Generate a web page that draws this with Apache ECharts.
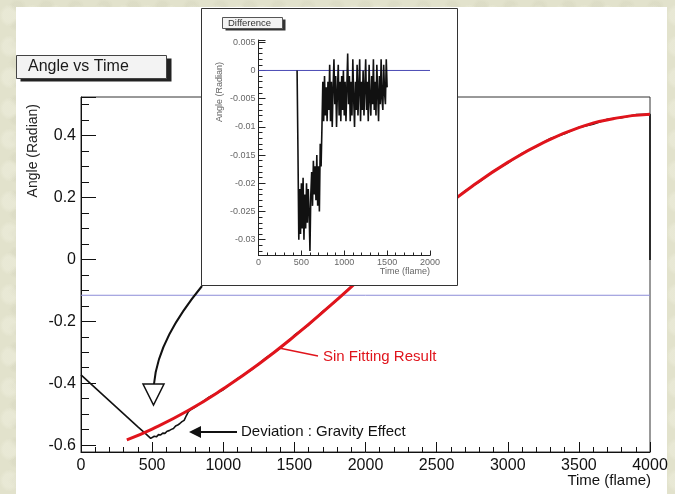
<!DOCTYPE html>
<html>
<head>
<meta charset="utf-8">
<script src="https://cdn.jsdelivr.net/npm/echarts@6/dist/echarts.min.js"></script>
<style>
html,body{margin:0;padding:0;}
body{background-color:#e2e2cc;background-image:radial-gradient(ellipse at 40% 50%, rgba(245,245,230,0.35) 0 6px, transparent 10px),radial-gradient(ellipse at 60% 30%, rgba(205,205,180,0.25) 0 5px, transparent 9px);background-size:23px 31px, 29px 19px;}
#paper{position:absolute;left:16px;top:7px;width:651px;height:487px;background:#ffffff;}
#chart{position:absolute;left:0;top:0;width:675px;height:494px;}
</style>
</head>
<body>
<div id="paper"></div>
<div id="chart"></div>
<script>
// ---- main plot data: measured angle vs time ----
const mainTime = [0, 50, 100, 150, 200, 250, 300, 350, 400, 450, 490, 500, 515, 530, 545, 560, 575, 590, 605, 620, 635, 650, 665, 680, 695, 710, 725, 740, 755, 770,
  800, 900, 1000, 1100, 1200, 1300, 1400, 1500, 1600, 1700, 1800, 1900, 2000, 2100, 2200, 2300, 2400, 2500, 2600, 2700, 2800, 2900, 3000, 3100, 3200, 3300, 3400, 3500, 3600, 3700, 3800, 3900, 4000, 4000];
const mainAngle = [-0.373, -0.394, -0.415, -0.436, -0.457, -0.478, -0.499, -0.520, -0.541, -0.561, -0.578, -0.575, -0.571, -0.573, -0.566, -0.567, -0.561, -0.562, -0.555, -0.553, -0.549, -0.546, -0.538, -0.535, -0.530, -0.524, -0.520, -0.505, -0.492, -0.486,
  -0.478, -0.445, -0.421, -0.385, -0.356, -0.318, -0.287, -0.245, -0.212, -0.168, -0.132, -0.087, -0.050, -0.006, 0.031, 0.074, 0.109, 0.151, 0.182, 0.221, 0.250, 0.285, 0.311, 0.342, 0.364, 0.390, 0.405, 0.426, 0.436, 0.452, 0.457, 0.467, 0.468, -0.002];

// ---- sine fit result ----
const fitTime  = [322, 500, 750, 1000, 1250, 1500, 1750, 2000, 2250, 2500, 2750, 3000, 3250, 3500, 3750, 4000];
const fitAngle = [-0.583, -0.548, -0.489, -0.418, -0.338, -0.248, -0.150, -0.048, 0.052, 0.148, 0.236, 0.313, 0.377, 0.425, 0.455, 0.468];

// ---- horizontal reference line (main) ----
const refTime = [0, 4000];
const refAngle = [-0.116, -0.116];

// ---- inset: difference (data - fit) ----
const diffTime = [450, 460, 470, 480, 490, 500, 510, 520, 530, 540, 550, 560, 570, 580, 590, 600, 610, 620, 630, 640, 650, 660, 670, 680, 690, 700, 710, 720, 730, 740,
  750, 760, 770, 780, 790, 800, 810, 820, 830, 840, 850, 860, 870, 880, 890, 900, 910, 920, 930, 940, 950, 960, 970, 980, 990,
  1000, 1010, 1020, 1030, 1040, 1050, 1060, 1070, 1080, 1090, 1100, 1110, 1120, 1130, 1140, 1150, 1160, 1170, 1180, 1190,
  1200, 1210, 1220, 1230, 1240, 1250, 1260, 1270, 1280, 1290, 1300, 1310, 1320, 1330, 1340, 1350, 1360, 1370, 1380, 1390,
  1400, 1410, 1420, 1430, 1440, 1450, 1460, 1470, 1480, 1490, 1500];
const diffValue = [0, -0.014, -0.030, -0.021, -0.029, -0.020, -0.028, -0.019, -0.030, -0.022, -0.028, -0.020, -0.027, -0.021, -0.025, -0.032, -0.022, -0.018, -0.024, -0.016, -0.022, -0.017, -0.023, -0.015, -0.024, -0.017, -0.025, -0.013, -0.017, -0.010,
  -0.002, -0.009, -0.001, -0.008, -0.003, -0.009, -0.002, -0.007, 0.001, -0.009, -0.002, -0.010, -0.003, 0.002, -0.006, -0.001, -0.010, -0.004, 0.001, -0.008, -0.002, -0.009, -0.001, -0.007, 0.000,
  -0.008, -0.002, -0.009, -0.003, 0.003, -0.006, -0.001, -0.009, -0.002, -0.008, 0.002, -0.005, -0.010, -0.002, -0.007, 0.001, -0.008, -0.003, 0.002, -0.009,
  -0.002, -0.007, 0.000, -0.008, -0.003, 0.002, -0.007, -0.002, -0.009, 0.001, -0.005, -0.008, -0.001, -0.006, 0.002, -0.007, -0.002, -0.008, 0.001, -0.004,
  -0.009, -0.001, -0.006, 0.002, -0.005, -0.007, 0.001, -0.004, -0.006, 0.002, -0.003];
const zeroTime = [0, 2000];
const zeroValue = [0, 0];

const zip = (a, b) => a.map((v, i) => [v, b[i]]);
const FONT = 'Liberation Sans, Arial, Helvetica, sans-serif';
const plain = v => String(v);

const chart = echarts.init(document.getElementById('chart'), null, {renderer: 'canvas'});

const option = {
  backgroundColor: 'transparent',
  animation: false,
  textStyle: {fontFamily: FONT},
  grid: [
    {left: 81, right: 25, top: 97, bottom: 42, show: true, borderColor: '#333', borderWidth: 1, backgroundColor: 'transparent', z: 0},
    {left: 258.5, width: 171.5, top: 40, height: 215.5, show: false, z: 10}
  ],
  xAxis: [
    {type: 'value', gridIndex: 0, min: 0, max: 4000, interval: 500,
     axisLine: {onZero: false, lineStyle: {color: '#111', width: 1}},
     axisTick: {inside: true, length: 10, lineStyle: {color: '#111'}},
     minorTick: {show: true, splitNumber: 5, length: 5, lineStyle: {color: '#111'}},
     axisLabel: {fontSize: 16, color: '#111', margin: 6, fontFamily: FONT, formatter: plain},
     splitLine: {show: false}},
    {type: 'value', gridIndex: 1, min: 0, max: 2000, interval: 500, z: 12,
     axisLine: {onZero: false, lineStyle: {color: '#222', width: 1}},
     axisTick: {inside: true, length: 5, lineStyle: {color: '#222'}},
     minorTick: {show: true, splitNumber: 5, length: 3, lineStyle: {color: '#222'}},
     axisLabel: {fontSize: 9, color: '#666', margin: 3, fontFamily: FONT, formatter: plain},
     splitLine: {show: false}}
  ],
  yAxis: [
    {type: 'value', gridIndex: 0, min: -0.622, max: 0.524, splitNumber: 5,
     axisLine: {onZero: false, lineStyle: {color: '#111', width: 1}},
     axisTick: {inside: true, length: 15, lineStyle: {color: '#111'}},
     minorTick: {show: true, splitNumber: 4, length: 8, lineStyle: {color: '#111'}},
     axisLabel: {fontSize: 16, color: '#111', margin: 5, showMinLabel: false, showMaxLabel: false, fontFamily: FONT},
     splitLine: {show: false}},
    {type: 'value', gridIndex: 1, min: -0.0328, max: 0.0054, splitNumber: 8, z: 12,
     axisLine: {onZero: false, lineStyle: {color: '#222', width: 1}},
     axisTick: {inside: true, length: 7, lineStyle: {color: '#222'}},
     minorTick: {show: true, splitNumber: 5, length: 4, lineStyle: {color: '#222'}},
     axisLabel: {fontSize: 9, color: '#666', margin: 3, showMinLabel: false, showMaxLabel: false, fontFamily: FONT},
     splitLine: {show: false}}
  ],
  series: [
    {type: 'line', xAxisIndex: 0, yAxisIndex: 0, data: zip(refTime, refAngle), symbol: 'none', z: 2,
     lineStyle: {color: '#8c8cd8', width: 1}},
    {type: 'line', xAxisIndex: 0, yAxisIndex: 0, data: zip(mainTime, mainAngle), symbol: 'none', z: 3,
     lineStyle: {color: '#111', width: 1.6}},
    {type: 'line', xAxisIndex: 0, yAxisIndex: 0, data: zip(fitTime, fitAngle), symbol: 'none', smooth: true, z: 4,
     lineStyle: {color: '#e0141c', width: 3}},
    {type: 'line', xAxisIndex: 1, yAxisIndex: 1, data: zip(zeroTime, zeroValue), symbol: 'none', z: 12,
     lineStyle: {color: '#4a4ab4', width: 1}},
    {type: 'line', xAxisIndex: 1, yAxisIndex: 1, data: zip(diffTime, diffValue), symbol: 'none', z: 13,
     lineStyle: {color: '#111', width: 1.6}}
  ],
  graphic: [
    // inset panel
    {type: 'rect', z: 5, shape: {x: 201.5, y: 8.5, width: 256, height: 277}, style: {fill: '#ffffff', stroke: '#333', lineWidth: 1}},
    // "Difference" label box
    {type: 'rect', z: 20, shape: {x: 225.5, y: 19.5, width: 60, height: 11}, style: {fill: '#333', stroke: null}},
    {type: 'rect', z: 21, shape: {x: 222.5, y: 17.5, width: 60, height: 11}, style: {fill: '#f3f3f3', stroke: '#555', lineWidth: 1}},
    {type: 'text', z: 22, x: 228, y: 23, style: {text: 'Difference', fontSize: 9.5, fill: '#333', fontFamily: FONT, align: 'left', verticalAlign: 'middle'}},
    // inset axis titles
    {type: 'text', z: 22, x: 220, y: 62, rotation: Math.PI / 2, style: {text: 'Angle (Radian)', fontSize: 9, fill: '#666', fontFamily: FONT, align: 'right', verticalAlign: 'middle'}},
    {type: 'text', z: 22, x: 430, y: 272, style: {text: 'Time (flame)', fontSize: 9, fill: '#666', fontFamily: FONT, align: 'right', verticalAlign: 'middle'}},
    // title box "Angle vs Time"
    {type: 'rect', z: 20, shape: {x: 20.5, y: 58.5, width: 151, height: 23}, style: {fill: '#222', stroke: null}},
    {type: 'rect', z: 21, shape: {x: 16.5, y: 55.5, width: 150, height: 23}, style: {fill: '#f3f3f3', stroke: '#444', lineWidth: 1}},
    {type: 'text', z: 22, x: 28, y: 67, style: {text: 'Angle vs Time', fontSize: 16, fill: '#1a1a1a', fontFamily: FONT, align: 'left', verticalAlign: 'middle'}},
    // main axis titles
    {type: 'text', z: 22, x: 33, y: 104, rotation: Math.PI / 2, style: {text: 'Angle (Radian)', fontSize: 14, fill: '#222', fontFamily: FONT, align: 'right', verticalAlign: 'middle'}},
    {type: 'text', z: 22, x: 651, y: 481, style: {text: 'Time (flame)', fontSize: 15, fill: '#111', fontFamily: FONT, align: 'right', verticalAlign: 'middle'}},
    // curved arrow from inset to deviation region
    {type: 'bezierCurve', z: 22, shape: {x1: 202, y1: 286, cpx1: 176, cpy1: 318, cpx2: 157, cpy2: 350, x2: 154, y2: 384}, style: {stroke: '#111', lineWidth: 2, fill: null}},
    {type: 'polygon', z: 23, shape: {points: [[143, 384], [164, 384], [153.5, 405]]}, style: {fill: '#ffffff', stroke: '#111', lineWidth: 1.5}},
    // deviation annotation
    {type: 'line', z: 22, shape: {x1: 198, y1: 432, x2: 237, y2: 432}, style: {stroke: '#111', lineWidth: 2}},
    {type: 'polygon', z: 22, shape: {points: [[189, 432], [201, 426], [201, 438]]}, style: {fill: '#111', stroke: null}},
    {type: 'text', z: 22, x: 241, y: 432, style: {text: 'Deviation : Gravity Effect', fontSize: 15, fill: '#111', fontFamily: FONT, align: 'left', verticalAlign: 'middle'}},
    // sin fit annotation
    {type: 'line', z: 22, shape: {x1: 279, y1: 348, x2: 318, y2: 356}, style: {stroke: '#e0141c', lineWidth: 1.3}},
    {type: 'text', z: 22, x: 323, y: 357, style: {text: 'Sin Fitting Result', fontSize: 15, fill: '#e0141c', fontFamily: FONT, align: 'left', verticalAlign: 'middle'}}
  ]
};
chart.setOption(option);
</script>
</body>
</html>
